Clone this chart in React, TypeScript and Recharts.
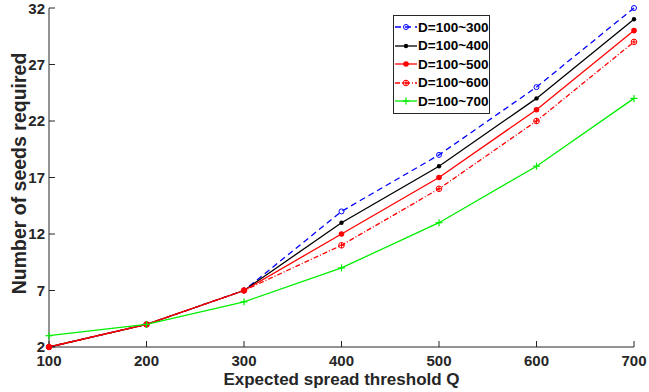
import { Line, LineChart, XAxis, YAxis } from 'recharts';

const qValues = [100, 200, 300, 400, 500, 600, 700];
const d300 = [2, 4, 7, 14, 19, 25, 32];
const d400 = [2, 4, 7, 13, 18, 24, 31];
const d500 = [2, 4, 7, 12, 17, 23, 30];
const d600 = [2, 4, 7, 11, 16, 22, 29];
const d700 = [3, 4, 6, 9, 13, 18, 24];
const xTicks = [100, 200, 300, 400, 500, 600, 700];
const yTicks = [2, 7, 12, 17, 22, 27, 32];

const data = qValues.map((q, i) => ({
  q,
  d300: d300[i],
  d400: d400[i],
  d500: d500[i],
  d600: d600[i],
  d700: d700[i],
}));

const FONT = '"Liberation Sans", Arial, sans-serif';
const AXIS = '#262626';
const tickStyle = { fontFamily: FONT, fontWeight: 'bold', fontSize: 15, fill: AXIS };

const series = [
  { key: 'd300', name: 'D=100~300', color: '#0000ff', dash: '6 4', marker: 'openCircle' },
  { key: 'd400', name: 'D=100~400', color: '#000000', dash: undefined, marker: 'dot' },
  { key: 'd500', name: 'D=100~500', color: '#ff0000', dash: undefined, marker: 'fillCircle' },
  { key: 'd600', name: 'D=100~600', color: '#ff0000', dash: '5 2 1 2', marker: 'star' },
  { key: 'd700', name: 'D=100~700', color: '#00ee00', dash: undefined, marker: 'plus' },
];

function Marker({ cx, cy, kind, color }: any) {
  if (cx == null || cy == null) return null;
  if (kind === 'openCircle')
    return <circle cx={cx} cy={cy} r={2.5} fill="none" stroke={color} strokeWidth={1} />;
  if (kind === 'dot') return <circle cx={cx} cy={cy} r={2.2} fill={color} />;
  if (kind === 'fillCircle') return <circle cx={cx} cy={cy} r={2.8} fill={color} />;
  if (kind === 'star')
    return (
      <g stroke={color} strokeWidth={1}>
        <circle cx={cx} cy={cy} r={2.8} fill="none" />
        <line x1={cx - 3} y1={cy} x2={cx + 3} y2={cy} />
        <line x1={cx} y1={cy - 3} x2={cx} y2={cy + 3} />
      </g>
    );
  return (
    <g stroke={color} strokeWidth={1.2}>
      <line x1={cx - 3.5} y1={cy} x2={cx + 3.5} y2={cy} />
      <line x1={cx} y1={cy - 3.5} x2={cx} y2={cy + 3.5} />
    </g>
  );
}

const noLabel = () => <g />;

function XTitle({ viewBox }: any) {
  return (
    <text
      x={viewBox.x + viewBox.width / 2}
      y={viewBox.y + 38}
      textAnchor="middle"
      fontFamily={FONT}
      fontWeight="bold"
      fontSize={17}
      fill={AXIS}
    >
      Expected spread threshold Q
    </text>
  );
}

function YTitle({ viewBox }: any) {
  const x = viewBox.x + 26;
  const y = viewBox.y + viewBox.height / 2 - 4;
  return (
    <text
      x={x}
      y={y}
      transform={`rotate(-90, ${x}, ${y})`}
      textAnchor="middle"
      fontFamily={FONT}
      fontWeight="bold"
      fontSize={19.5}
      fill={AXIS}
    >
      Number of seeds required
    </text>
  );
}

function LegendBox() {
  return (
    <div
      style={{
        position: 'absolute',
        left: 393,
        top: 15,
        width: 94,
        border: '1px solid #262626',
        background: '#fff',
        padding: '2px 0 2px 1px',
        fontFamily: FONT,
        fontWeight: 'bold',
        fontSize: 13.5,
        color: '#000',
      }}
    >
      {series.map((s) => (
        <div key={s.key} style={{ display: 'flex', alignItems: 'center', height: 18.5 }}>
          <svg width={22} height={12} style={{ marginRight: 1 }}>
            <line x1={0} y1={6} x2={22} y2={6} stroke={s.color} strokeWidth={1.3} strokeDasharray={s.dash} />
            <Marker cx={11} cy={6} kind={s.marker} color={s.color} />
          </svg>
          <span>{s.name}</span>
        </div>
      ))}
    </div>
  );
}

export default function App() {
  return (
    <div style={{ position: 'absolute', left: 0, top: 0, width: 649, height: 392, background: '#fff' }}>
      <LineChart width={649} height={392} data={data} margin={{ top: 8, right: 15, left: 0, bottom: 0 }}>
        <XAxis
          dataKey="q"
          type="number"
          domain={[100, 700]}
          ticks={xTicks}
          height={45}
          stroke={AXIS}
          tickSize={-6}
          tickMargin={14}
          tick={tickStyle}
          label={<XTitle />}
        />
        <XAxis
          xAxisId="top"
          orientation="top"
          dataKey="q"
          type="number"
          domain={[100, 700]}
          ticks={xTicks}
          height={0}
          stroke={AXIS}
          tickSize={-6}
          tick={noLabel}
        />
        <YAxis
          type="number"
          domain={[2, 32]}
          ticks={yTicks}
          width={49}
          stroke={AXIS}
          tickSize={-6}
          tickMargin={10}
          tick={tickStyle}
          label={<YTitle />}
        />
        <YAxis
          yAxisId="right"
          orientation="right"
          type="number"
          domain={[2, 32]}
          ticks={yTicks}
          width={0}
          stroke={AXIS}
          tickSize={-6}
          tick={noLabel}
        />
        {series.map((s) => (
          <Line
            key={s.key}
            type="linear"
            dataKey={s.key}
            name={s.name}
            xAxisId={s.key === 'd700' ? 'top' : 0}
            yAxisId={s.key === 'd700' ? 'right' : 0}
            stroke={s.color}
            strokeWidth={1.3}
            strokeDasharray={s.dash}
            dot={(p: any) => <Marker key={`${s.key}-${p.index}`} cx={p.cx} cy={p.cy} kind={s.marker} color={s.color} />}
            activeDot={false}
            isAnimationActive={false}
          />
        ))}
      </LineChart>
      <LegendBox />
    </div>
  );
}
